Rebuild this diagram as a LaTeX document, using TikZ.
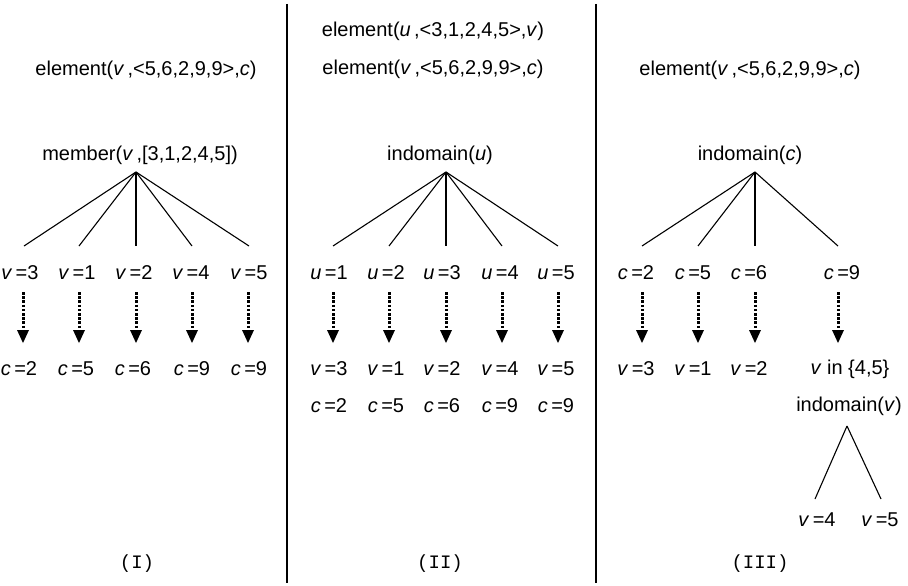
\documentclass[tikz,border=0pt]{standalone}
\usepackage{fontspec}
\setmainfont{Liberation Sans}
\setmonofont{Liberation Mono}
\usetikzlibrary{arrows.meta}
\newcommand{\iv}[1]{\textit{#1}\,}
\begin{document}
\begin{tikzpicture}[x=1pt,y=-1pt,
  lbl/.style={inner sep=0pt, font=\fontsize{20}{24}\selectfont},
  paneltag/.style={inner sep=0pt, font=\ttfamily\fontsize{19}{23}\selectfont},
  branch/.style={line width=1.1pt},
  divider/.style={line width=1.3pt},
  darrow/.style={line width=3pt, dash pattern=on 2.6pt off 1.6pt,
     -{Triangle[length=13pt,width=12pt,line width=0pt]}}]
\useasboundingbox (0,0) rectangle (908,586);
% dividers
\coordinate (d1t) at (287,4); \coordinate (d1b) at (287,583);
\coordinate (d2t) at (596,4); \coordinate (d2b) at (596,583);
\draw[divider] (d1t) -- (d1b);
\draw[divider] (d2t) -- (d2b);

% ---------- Panel I ----------
\node[lbl] (e1) at (146,70) {element(\iv{v},<5,6,2,9,9>,\textit{c})};
\node[lbl] (m1) at (140,155) {member(\iv{v},[3,1,2,4,5])};
\coordinate (a1) at (136,172);
\foreach \i/\x in {1/24,2/79,3/136,4/192,5/249}{
  \coordinate (b1\i) at (\x,246);
  \draw[branch] (a1) -- (b1\i);
}
\foreach \i/\x/\t in {1/20/3,2/77/1,3/134/2,4/191/4,5/249/5}{
  \node[lbl] (p1\i) at (\x,273) {\iv{v}=\t};
}
\foreach \i/\x in {1/23,2/79,3/136,4/192,5/248}{
  \coordinate (s1\i) at (\x,292); \coordinate (t1\i) at (\x,343);
  \draw[darrow] (s1\i) -- (t1\i);
}
\foreach \i/\x/\t in {1/19/2,2/76/5,3/133/6,4/192/9,5/249/9}{
  \node[lbl] (q1\i) at (\x,369) {\iv{c}=\t};
}
\node[paneltag] (c1) at (137,564) {(I)};

% ---------- Panel II ----------
\node[lbl] (e2a) at (433,31) {element(\iv{u},<3,1,2,4,5>,\textit{v})};
\node[lbl] (e2b) at (433,69) {element(\iv{v},<5,6,2,9,9>,\textit{c})};
\node[lbl] (m2) at (440,155) {indomain(\textit{u})};
\coordinate (a2) at (446,172);
\foreach \i/\x in {1/333,2/389,3/446,4/502,5/558}{
  \coordinate (b2\i) at (\x,246);
  \draw[branch] (a2) -- (b2\i);
}
\foreach \i/\x/\t in {1/329/1,2/386/2,3/442/3,4/500/4,5/556/5}{
  \node[lbl] (p2\i) at (\x,273) {\iv{u}=\t};
}
\foreach \i/\x in {1/333,2/389,3/446,4/502,5/558}{
  \coordinate (s2\i) at (\x,292); \coordinate (t2\i) at (\x,343);
  \draw[darrow] (s2\i) -- (t2\i);
}
\foreach \i/\x/\t in {1/329/3,2/386/1,3/442/2,4/500/4,5/556/5}{
  \node[lbl] (q2\i) at (\x,369) {\iv{v}=\t};
}
\foreach \i/\x/\t in {1/329/2,2/386/5,3/442/6,4/500/9,5/556/9}{
  \node[lbl] (r2\i) at (\x,406) {\iv{c}=\t};
}
\node[paneltag] (c2) at (440,564) {(II)};

% ---------- Panel III ----------
\node[lbl] (e3) at (750,70) {element(\iv{v},<5,6,2,9,9>,\textit{c})};
\node[lbl] (m3) at (750,155) {indomain(\textit{c})};
\coordinate (a3) at (755,172);
\foreach \i/\x in {1/642,2/698,3/755,4/838}{
  \coordinate (b3\i) at (\x,246);
  \draw[branch] (a3) -- (b3\i);
}
\foreach \i/\x/\t in {1/636/2,2/693/5,3/749/6,4/842/9}{
  \node[lbl] (p3\i) at (\x,273) {\iv{c}=\t};
}
\foreach \i/\x in {1/642,2/698,3/755,4/838}{
  \coordinate (s3\i) at (\x,292); \coordinate (t3\i) at (\x,343);
  \draw[darrow] (s3\i) -- (t3\i);
}
\foreach \i/\x/\t in {1/636/3,2/693/1,3/749/2}{
  \node[lbl] (q3\i) at (\x,369) {\iv{v}=\t};
}
\node[lbl] (q34) at (850,369) {\textit{v} in \{4,5\}};
\node[lbl] (m4) at (849,406) {indomain(\textit{v})};
\coordinate (a4) at (847,426);
\coordinate (b41) at (815,499);
\coordinate (b42) at (881,499);
\draw[branch] (a4) -- (b41);
\draw[branch] (a4) -- (b42);
\node[lbl] (p41) at (817,520) {\iv{v}=4};
\node[lbl] (p42) at (880,520) {\iv{v}=5};
\node[paneltag] (c3) at (760,564) {(III)};
\end{tikzpicture}
\end{document}
